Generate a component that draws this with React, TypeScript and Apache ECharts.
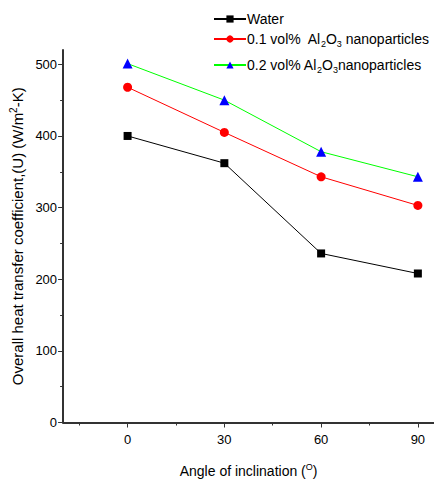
import React, { useEffect, useRef } from "react";
import * as echarts from "echarts";

const angles = [0, 30, 60, 90];
const waterU = [400, 362, 236, 208];
const np01U = [468, 405, 343, 303];
const np02U = [501, 450, 378, 343];
const yTicks = [0, 100, 200, 300, 400, 500];
const yMinorTicks = [50, 150, 250, 350, 450];
const xTicks = [0, 30, 60, 90];
const xMinorTicks = [-15, 15, 45, 75];

const seriesNames = ["Water", "0.1 vol%  Al2O3 nanoparticles", "0.2 vol% Al2O3nanoparticles"];
const legendLabels = [
  "Water",
  "0.1 vol%  Al{sub|2}O{sub|3} nanoparticles",
  "0.2 vol% Al{sub|2}O{sub|3}nanoparticles",
];

const FONT = "'Liberation Sans', Arial, sans-serif";
const AXIS_COLOR = "#333";

export default function App() {
  const ref = useRef<HTMLDivElement>(null);
  useEffect(() => {
    if (!ref.current) return;
    const chart = echarts.init(ref.current, null, { renderer: "svg" });
    const pair = (ys: number[]) => angles.map((a, i) => [a, ys[i]]);
    const legendBase = (idx: number, top: number) => ({
      data: [seriesNames[idx]],
      left: 213,
      top,
      itemWidth: 32,
      itemHeight: 9,
      itemGap: 0,
      padding: 0,
      formatter: () => legendLabels[idx],
      textStyle: {
        fontFamily: FONT,
        fontSize: 14,
        color: "#000",
        padding: [0, 0, 0, -4],
        rich: {
          sub: { fontFamily: FONT, fontSize: 9, color: "#000", verticalAlign: "bottom", padding: [10, 0, 0, 0] },
        },
      },
    });
    chart.setOption({
      animation: false,
      textStyle: { fontFamily: FONT },
      legend: [legendBase(0, 12), legendBase(1, 32), legendBase(2, 58)],
      grid: { left: 61, top: 50, right: 0, bottom: 58 },
      xAxis: [
        {
          type: "value",
          min: -20,
          max: 95,
          position: "bottom",
          splitLine: { show: false },
          axisLine: { show: true, onZero: false, lineStyle: { color: AXIS_COLOR, width: 2 } },
          axisTick: { customValues: xTicks, length: 5, lineStyle: { color: AXIS_COLOR } },
          axisLabel: { customValues: xTicks, fontSize: 13, color: "#000", margin: 10, fontFamily: FONT },
          name: "Angle of inclination ({sup|O})",
          nameLocation: "middle",
          nameGap: 40,
          nameTextStyle: {
            fontFamily: FONT,
            fontSize: 14,
            color: "#000",
            rich: { sup: { fontFamily: FONT, fontSize: 9, color: "#000", verticalAlign: "top", padding: [0, 0, 8, 0] } },
          },
        },
        {
          type: "value",
          min: -20,
          max: 95,
          position: "bottom",
          splitLine: { show: false },
          axisLine: { show: false, onZero: false },
          axisTick: { customValues: xMinorTicks, length: 3, lineStyle: { color: AXIS_COLOR } },
          axisLabel: { show: false },
        },
      ],
      yAxis: [
        {
          type: "value",
          min: 0,
          max: 520,
          position: "left",
          splitLine: { show: false },
          axisLine: { show: true, onZero: false, lineStyle: { color: AXIS_COLOR, width: 2 } },
          axisTick: { show: true, customValues: yTicks, length: 5, lineStyle: { color: AXIS_COLOR } },
          axisLabel: { customValues: yTicks, fontSize: 13, color: "#000", margin: 6, fontFamily: FONT },
          name: "Overall heat transfer coefficient,(U) (W/m{sup|2}-K)",
          nameLocation: "middle",
          nameGap: 37,
          nameTextStyle: {
            fontFamily: FONT,
            fontSize: 15,
            color: "#000",
            rich: { sup: { fontFamily: FONT, fontSize: 10, color: "#000", verticalAlign: "top", padding: [0, 0, 8, 0] } },
          },
        },
        {
          type: "value",
          min: 0,
          max: 520,
          position: "left",
          splitLine: { show: false },
          axisLine: { show: false, onZero: false },
          axisTick: { show: true, customValues: yMinorTicks, length: 3, lineStyle: { color: AXIS_COLOR } },
          axisLabel: { show: false },
        },
      ],
      series: [
        {
          name: seriesNames[0],
          type: "line",
          data: pair(waterU),
          symbol: "rect",
          symbolSize: 8,
          itemStyle: { color: "#000" },
          lineStyle: { color: "#000", width: 1 },
        },
        {
          name: seriesNames[1],
          type: "line",
          data: pair(np01U),
          symbol: "circle",
          symbolSize: 9,
          itemStyle: { color: "#ff0000" },
          lineStyle: { color: "#ff0000", width: 1 },
        },
        {
          name: seriesNames[2],
          type: "line",
          data: pair(np02U),
          symbol: "triangle",
          symbolSize: 10,
          itemStyle: { color: "#0000ff" },
          lineStyle: { color: "#00ff00", width: 1 },
        },
      ],
    });
    return () => chart.dispose();
  }, []);
  return <div ref={ref} style={{ width: 434, height: 483, position: "absolute", left: 0, top: 0 }} />;
}
